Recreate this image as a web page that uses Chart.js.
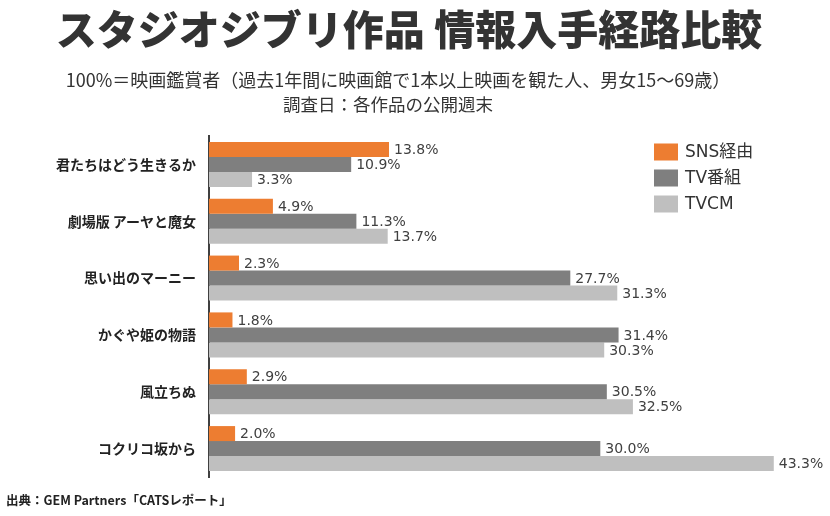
<!DOCTYPE html>
<html lang="ja">
<head>
<meta charset="utf-8">
<script src="https://cdn.jsdelivr.net/npm/chart.js@4/dist/chart.umd.min.js"></script>
<style>
  body { margin: 0; background: #fff; }
  #wrap { position: relative; width: 830px; height: 516px; overflow: hidden; }
  #chart { position: absolute; left: 0; top: 0; }
  .txt { position: absolute; left: 0; width: 830px; text-align: center; color: #333; white-space: nowrap;
         font-family: "Noto Sans CJK JP", "Noto Sans", sans-serif; }
  #title { top: 1px; left: -6px; font-size: 41px; font-weight: 900; line-height: 52px; }
  #sub1 { top: 67px; left: -17px; font-size: 18px; line-height: 24px; }
  #sub2 { top: 92px; left: -27px; font-size: 17.5px; line-height: 24px; }
  #source { top: 490px; left: 6px; width: auto; text-align: left; font-size: 12.5px; font-weight: bold; color: #222; }
</style>
</head>
<body>
<div id="wrap">
  <canvas id="chart" width="830" height="516"></canvas>
  <div id="title" class="txt">スタジオジブリ作品&nbsp;情報入手経路比較</div>
  <div id="sub1" class="txt">100%＝映画鑑賞者（過去1年間に映画館で1本以上映画を観た人、男女15～69歳）</div>
  <div id="sub2" class="txt">調査日：各作品の公開週末</div>
  <div id="source" class="txt">出典：GEM Partners「CATSレポート」</div>
</div>
<script>
// 作品（上から順）
const films = ['君たちはどう生きるか', '劇場版 アーヤと魔女', '思い出のマーニー', 'かぐや姫の物語', '風立ちぬ', 'コクリコ坂から'];
const seriesNames = ['SNS経由', 'TV番組', 'TVCM'];
const snsValues = [13.8, 4.9, 2.3, 1.8, 2.9, 2.0];
const tvValues = [10.9, 11.3, 27.7, 31.4, 30.5, 30.0];
const tvcmValues = [3.3, 13.7, 31.3, 30.3, 32.5, 43.3];
const colors = ['#ED7D31', '#7F7F7F', '#BFBFBF'];

const numFont = '"DejaVu Sans", "Noto Sans CJK JP", sans-serif';

// 棒の右に値ラベル
const valueLabels = {
  id: 'valueLabels',
  afterDatasetsDraw(chart) {
    const { ctx } = chart;
    ctx.save();
    ctx.font = '14px ' + numFont;
    ctx.fillStyle = '#404040';
    ctx.textBaseline = 'middle';
    ctx.textAlign = 'left';
    chart.data.datasets.forEach((ds, i) => {
      chart.getDatasetMeta(i).data.forEach((bar, j) => {
        ctx.fillText(ds.data[j].toFixed(1) + '%', bar.x + 5, bar.y + 1);
      });
    });
    ctx.restore();
  }
};

// 右上の凡例
const boxLegend = {
  id: 'boxLegend',
  afterDraw(chart) {
    const { ctx } = chart;
    ctx.save();
    ctx.font = '17px ' + numFont;
    ctx.textBaseline = 'middle';
    chart.data.datasets.forEach((ds, i) => {
      const cy = 152 + i * 26;
      ctx.fillStyle = ds.backgroundColor;
      ctx.fillRect(654, cy - 8.5, 24, 17);
      ctx.fillStyle = '#333';
      ctx.fillText(ds.label, 685, cy + 1);
    });
    ctx.restore();
  }
};

new Chart(document.getElementById('chart'), {
  type: 'bar',
  data: {
    labels: films,
    datasets: [
      { label: seriesNames[0], data: snsValues, backgroundColor: colors[0] },
      { label: seriesNames[1], data: tvValues, backgroundColor: colors[1] },
      { label: seriesNames[2], data: tvcmValues, backgroundColor: colors[2] }
    ]
  },
  options: {
    indexAxis: 'y',
    responsive: false,
    animation: false,
    devicePixelRatio: 1,
    categoryPercentage: 0.792,
    barPercentage: 1,
    layout: { padding: { top: 136, bottom: 39, left: 0, right: 21 } },
    plugins: {
      legend: { display: false },
      tooltip: { enabled: false }
    },
    scales: {
      x: {
        display: false,
        min: 0,
        max: 46
      },
      y: {
        z: 1,
        grid: { display: false, drawTicks: false },
        border: { display: true, color: '#404040', width: 2 },
        ticks: {
          padding: 13,
          color: '#222',
          font: { family: '"Noto Sans CJK JP", sans-serif', size: 14, weight: 'bold' }
        },
        afterFit(scale) { scale.width = 209; }
      }
    }
  },
  plugins: [valueLabels, boxLegend]
});
</script>
</body>
</html>
